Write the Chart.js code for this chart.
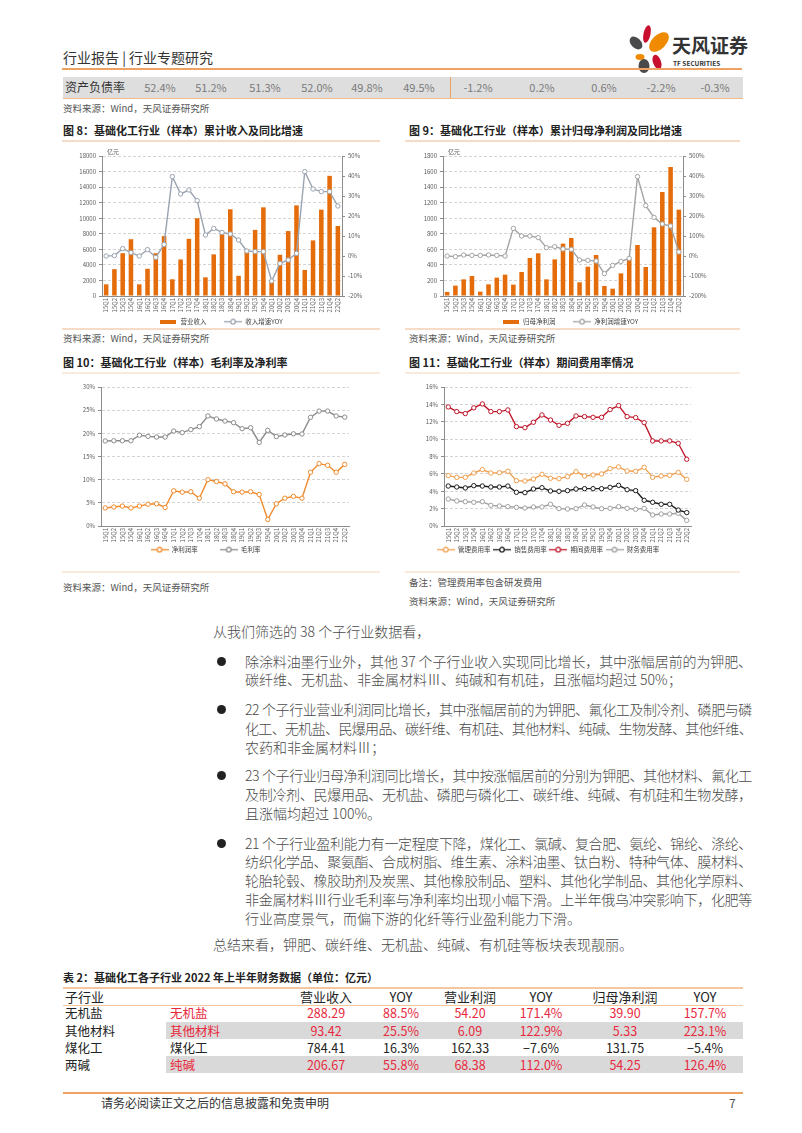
<!DOCTYPE html>
<html lang="zh-CN">
<head>
<meta charset="utf-8">
<title>基础化工行业专题研究</title>
<script src="https://cdn.jsdelivr.net/npm/chart.js@4.4.0/dist/chart.umd.min.js"></script>
<style>
  html, body { margin: 0; padding: 0; background: #fff; }
  body {
    width: 802px; height: 1133px; position: relative; overflow: hidden;
    font-family: "Noto Sans CJK SC", "Noto Sans", sans-serif; color: #333;
  }
  .t { position: absolute; white-space: nowrap; }
  .hline { position: absolute; height: 0; }
  .box { position: absolute; }
  .fig-title { font-size: 11px; font-weight: bold; color: #222; line-height: 14px; }
  .src { font-size: 9.5px; color: #555; line-height: 12px; }
  .ln { position: absolute; left: 245px; font-size: 14px; line-height: 19px; color: #4a4a4a; font-weight: 300; white-space: nowrap; }
  .ln span { display: inline-block; }
  .dot { position: absolute; left: 217px; width: 9px; height: 9px; border-radius: 50%; background: #222; }
  .num { position: absolute; font-size: 11px; color: #7a7a7a; transform: translateX(-50%); line-height: 14px; }
  .cell { position: absolute; font-size: 12.5px; line-height: 16px; transform: translateX(-50%); }
  canvas { position: absolute; }
</style>
</head>
<body>

<!-- header -->
<div class="t" style="left:63px; top:48px; font-size:14px; line-height:18px; color:#333;">行业报告 | 行业专题研究</div>
<svg class="box" style="left:622px; top:22px;" width="50" height="52" viewBox="0 0 50 52">
  <ellipse cx="25" cy="12" rx="3.5" ry="9" fill="#c8102e" transform="rotate(12 25 12)"/>
  <ellipse cx="37" cy="20" rx="7" ry="12" fill="#f08a00" transform="rotate(45 37 20)"/>
  <ellipse cx="14" cy="21" rx="5" ry="7.5" fill="#4a4a4a" transform="rotate(-45 14 21)"/>
  <ellipse cx="18" cy="35" rx="4.5" ry="3" fill="#f08a00"/>
  <ellipse cx="22" cy="44" rx="5.5" ry="7" fill="#4a4a4a"/>
  <ellipse cx="35" cy="40" rx="4" ry="7.5" fill="#c8102e" transform="rotate(-20 35 40)"/>
</svg>
<div class="t" style="left:672px; top:33px; font-size:19px; line-height:24px; font-weight:bold; color:#333;">天风证券</div>
<div class="t" style="left:673px; top:59px; font-size:6.5px; line-height:8px; font-weight:bold; color:#333;">TF SECURITIES</div>
<div class="hline" style="left:62px; top:68px; width:680px; border-top:2px solid #eda262;"></div>

<!-- debt ratio row -->
<div class="box" style="left:63px; top:77px; width:680px; height:21px; background:#dedede;"></div>
<div class="hline" style="left:63px; top:98px; width:680px; border-top:1px solid #f2b98a;"></div>
<div class="box" style="left:450px; top:77px; width:1px; height:21px; background:#eda262;"></div>
<div class="t" style="left:65px; top:79px; font-size:12px; line-height:16px; color:#333;">资产负债率</div>
<div id="debtRow"></div>
<div class="t src" style="left:63px; top:102px;">资料来源：Wind，天风证券研究所</div>

<!-- figure titles row 1 -->
<div class="t fig-title" style="left:63px; top:123px;">图 8：基础化工行业（样本）累计收入及同比增速</div>
<div class="t fig-title" style="left:409px; top:123px;">图 9：基础化工行业（样本）累计归母净利润及同比增速</div>
<div class="hline" style="left:62px; top:140px; width:318px; border-top:2px solid #f6dcc6;"></div>
<div class="hline" style="left:405px; top:140px; width:335px; border-top:2px solid #f6dcc6;"></div>
<canvas id="revenueChart" width="318" height="184" style="left:62px; top:143px;"></canvas>
<canvas id="profitChart" width="330" height="184" style="left:405px; top:143px;"></canvas>
<div class="hline" style="left:62px; top:328px; width:318px; border-top:2px solid #f6dcc6;"></div>
<div class="hline" style="left:405px; top:328px; width:335px; border-top:2px solid #f6dcc6;"></div>
<div class="t src" style="left:63px; top:332px;">资料来源：Wind，天风证券研究所</div>
<div class="t src" style="left:409px; top:332px;">资料来源：Wind，天风证券研究所</div>

<!-- figure titles row 2 -->
<div class="t fig-title" style="left:63px; top:355px;">图 10：基础化工行业（样本）毛利率及净利率</div>
<div class="t fig-title" style="left:409px; top:355px;">图 11：基础化工行业（样本）期间费用率情况</div>
<div class="hline" style="left:62px; top:372px; width:318px; border-top:2px solid #faeadc;"></div>
<div class="hline" style="left:405px; top:372px; width:335px; border-top:2px solid #faeadc;"></div>
<canvas id="marginChart" width="318" height="187" style="left:62px; top:375px;"></canvas>
<canvas id="expenseChart" width="330" height="187" style="left:405px; top:375px;"></canvas>
<div class="hline" style="left:62px; top:571px; width:318px; border-top:2px solid #faeadc;"></div>
<div class="hline" style="left:405px; top:571px; width:335px; border-top:2px solid #faeadc;"></div>
<div class="t src" style="left:63px; top:581px;">资料来源：Wind，天风证券研究所</div>
<div class="t src" style="left:409px; top:576px;">备注：管理费用率包含研发费用</div>
<div class="t src" style="left:409px; top:595px;">资料来源：Wind，天风证券研究所</div>

<!-- body text -->
<div id="body"></div>

<!-- table -->
<div class="t fig-title" style="left:63px; top:970px;">表 2：基础化工各子行业 2022 年上半年财务数据（单位：亿元）</div>
<div class="hline" style="left:63px; top:987px; width:680px; border-top:2px solid #f4c7a1;"></div>
<div class="hline" style="left:63px; top:1005px; width:680px; border-top:1px solid #f4c7a1;"></div>
<div id="table"></div>

<!-- footer -->
<div class="hline" style="left:63px; top:1092px; width:680px; border-top:2px solid #eda262;"></div>
<div class="t" style="left:101px; top:1095px; font-size:12px; line-height:16px; color:#333;">请务必阅读正文之后的信息披露和免责申明</div>
<div class="t" style="left:729px; top:1095px; font-size:12px; line-height:16px; color:#555;">7</div>

<script>
// ---- data ----
const quarters = [
  "15Q1", "15Q2", "15Q3", "15Q4", "16Q1", "16Q2", "16Q3", "16Q4",
  "17Q1", "17Q2", "17Q3", "17Q4", "18Q1", "18Q2", "18Q3", "18Q4",
  "19Q1", "19Q2", "19Q3", "19Q4", "20Q1", "20Q2", "20Q3", "20Q4",
  "21Q1", "21Q2", "21Q3", "21Q4", "22Q2",
];

// 图8 营业收入（亿元）与收入增速YOY（%）
const revenue = [
  1500, 3450, 5500, 7300, 1500, 3500, 5500, 7700,
  2150, 4700, 7350, 10000, 2400, 5350, 7950, 11150,
  2600, 5700, 8500, 11400, 1850, 5300, 8350, 11650,
  3350, 7150, 11100, 15450, 9000,
];
const revenueYoy = [
  0, 0.2, 3.7, 1.7, 0, 3.2, -0.7, 5.8,
  39.7, 31, 33, 27.7, 10.5, 13.8, 11.8, 11,
  8, 2.5, 2.2, 2.2, -12.5, -3.7, -2, 1.3,
  42.2, 33.5, 32.2, 32.2, 25,
];

// 图9 归母净利润（亿元）与净利润增速YOY（%）
const netProfit = [
  52, 133, 214, 257, 56, 150, 236, 274,
  146, 309, 489, 549, 214, 471, 673, 746,
  176, 377, 527, 129, 94, 291, 480, 656,
  373, 883, 1337, 1659, 1110,
];
const netProfitYoy = [
  0, -3, 5, 3, 3, 5, 3, 0,
  138, 100, 100, 92, 42, 47, 35, 33,
  -20, -22, -25, -88, -47, -27, -12, 397,
  252, 193, 160, 150, 20,
];

// 图10 净利润率 / 毛利率（%）
const netMargin = [
  3.9, 4.1, 4.3, 3.9, 4.3, 4.7, 4.8, 4.0,
  7.6, 7.3, 7.4, 6.0, 10.0, 9.6, 9.1, 7.4,
  7.3, 7.4, 6.8, 1.4, 4.8, 6.0, 6.4, 6.0,
  11.6, 13.45, 13.1, 11.6, 13.3,
];
const grossMargin = [
  18.35, 18.4, 18.4, 18.4, 19.6, 19.35, 19.2, 19.2,
  20.5, 20.15, 20.8, 21.45, 23.75, 23.1, 22.65, 22.3,
  21.0, 21.2, 18.05, 20.65, 19.3, 19.65, 19.9, 19.85,
  23.45, 24.8, 24.8, 23.75, 23.5,
];

// 图11 期间费用率（%）
const adminRate = [
  5.8, 5.6, 5.6, 6.1, 6.5, 6.1, 6.14, 6.3,
  5.22, 5.18, 5.41, 5.95, 5.49, 5.45, 5.68, 6.26,
  5.76, 5.87, 5.99, 6.6, 6.8, 6.33, 6.3, 6.76,
  5.6, 5.76, 5.83, 6.18, 5.37,
];
const sellingRate = [
  4.6, 4.49, 4.38, 4.64, 4.6, 4.49, 4.49, 4.6,
  3.88, 3.84, 4.26, 4.41, 4.03, 3.99, 4.07, 4.26,
  4.3, 4.3, 4.3, 4.45, 4.68, 4.18, 4.07, 2.96,
  2.73, 2.5, 2.5, 1.84, 1.54,
];
const periodRate = [
  13.7, 13.17, 12.94, 13.6, 14.05, 13.17, 13.17, 13.36,
  11.44, 11.32, 11.94, 12.78, 12.2, 11.59, 11.82, 12.67,
  12.59, 12.51, 12.51, 13.4, 13.86, 12.59, 12.48, 11.9,
  9.79, 9.79, 9.79, 9.52, 7.68,
];
const financeRate = [
  3.1, 2.88, 2.8, 2.73, 2.8, 2.38, 2.3, 2.23,
  2.15, 2.07, 2.19, 2.19, 2.5, 2.0, 1.96, 2.0,
  2.42, 2.19, 2.0, 2.03, 2.23, 2.03, 1.92, 2.03,
  1.27, 1.38, 1.38, 1.46, 0.65,
];

// 资产负债率行
const debtRatios = ["52.4%", "51.2%", "51.3%", "52.0%", "49.8%", "49.5%", "-1.2%", "0.2%", "0.6%", "-2.2%", "-0.3%"];

// 表2
const tableHeader = ["子行业", "", "营业收入", "YOY", "营业利润", "YOY", "归母净利润", "YOY"];
const tableRows = [
  ["无机盐", "无机盐", "288.29", "88.5%", "54.20", "171.4%", "39.90", "157.7%"],
  ["其他材料", "其他材料", "93.42", "25.5%", "6.09", "122.9%", "5.33", "223.1%"],
  ["煤化工", "煤化工", "784.41", "16.3%", "162.33", "−7.6%", "131.75", "−5.4%"],
  ["两碱", "纯碱", "206.67", "55.8%", "68.38", "112.0%", "54.25", "126.4%"],
];

// 正文
const introText = "从我们筛选的 38 个子行业数据看，";
const bullets = [
  ["除涂料油墨行业外，其他 37 个子行业收入实现同比增长，其中涨幅居前的为钾肥、",
   "碳纤维、无机盐、非金属材料Ⅲ、纯碱和有机硅，且涨幅均超过 50%；"],
  ["22 个子行业营业利润同比增长，其中涨幅居前的为钾肥、氟化工及制冷剂、磷肥与磷",
   "化工、无机盐、民爆用品、碳纤维、有机硅、其他材料、纯碱、生物发酵、其他纤维、",
   "农药和非金属材料Ⅲ；"],
  ["23 个子行业归母净利润同比增长，其中按涨幅居前的分别为钾肥、其他材料、氟化工",
   "及制冷剂、民爆用品、无机盐、磷肥与磷化工、碳纤维、纯碱、有机硅和生物发酵，",
   "且涨幅均超过 100%。"],
  ["21 个子行业盈利能力有一定程度下降，煤化工、氯碱、复合肥、氨纶、锦纶、涤纶、",
   "纺织化学品、聚氨酯、合成树脂、维生素、涂料油墨、钛白粉、特种气体、膜材料、",
   "轮胎轮毂、橡胶助剂及炭黑、其他橡胶制品、塑料、其他化学制品、其他化学原料、",
   "非金属材料Ⅲ行业毛利率与净利率均出现小幅下滑。上半年俄乌冲突影响下，化肥等",
   "行业高度景气，而偏下游的化纤等行业盈利能力下滑。"],
];
const summaryText = "总结来看，钾肥、碳纤维、无机盐、纯碱、有机硅等板块表现靓丽。";

// ---- page text ----
const debtX = [160, 211, 265, 317, 367, 419, 478, 542, 604, 661, 715];
document.getElementById("debtRow").innerHTML = debtRatios
  .map((v, i) => `<div class="num" style="left:${debtX[i]}px; top:80px;">${v}</div>`)
  .join("");

const bulletTops = [[662, 680], [710, 729, 748], [776, 795, 814], [844, 862, 881, 900, 919]];
let bodyHtml = `<div class="ln" style="left:213px; top:${632 - 10}px;"><span>${introText}</span></div>`;
bullets.forEach((lines, b) => {
  bodyHtml += `<div class="dot" style="top:${bulletTops[b][0] - 5}px;"></div>`;
  lines.forEach((line, i) => {
    const last = i === lines.length - 1;
    bodyHtml += `<div class="ln"${last ? "" : ' data-fit="1"'} style="top:${bulletTops[b][i] - 10}px;"><span>${line}</span></div>`;
  });
});
bodyHtml += `<div class="ln" style="left:213px; top:${945 - 10}px;"><span>${summaryText}</span></div>`;
document.getElementById("body").innerHTML = bodyHtml;

document.querySelectorAll('.ln[data-fit="1"] span').forEach((span) => {
  const natural = span.getBoundingClientRect().width;
  const n = span.textContent.length;
  span.style.letterSpacing = ((507 - natural) / n).toFixed(3) + "px";
});

const colX = [65, 170, 326, 401, 470, 541, 625, 705];
const rowTops = [989, 1005, 1023, 1040, 1057];
let tableHtml = "";
[1, 3].forEach((r) => {
  tableHtml += `<div class="box" style="left:166px; top:${rowTops[r + 1] - 1}px; width:577px; height:17px; background:#d9d9d9;"></div>`;
});
tableHeader.forEach((h, c) => {
  if (!h) return;
  const style = c < 2 ? `left:${colX[c]}px; transform:none;` : `left:${colX[c]}px;`;
  tableHtml += `<div class="cell" style="${style} top:${rowTops[0]}px; font-size:13px; color:#222;">${h}</div>`;
});
tableRows.forEach((row, r) => {
  const red = r !== 2;
  row.forEach((v, c) => {
    const color = c === 0 ? "#222" : red ? "#e8283c" : "#222";
    const style = c < 2 ? `left:${colX[c]}px; transform:none;` : `left:${colX[c]}px;`;
    tableHtml += `<div class="cell" style="${style} top:${rowTops[r + 1]}px; color:${color};">${v}</div>`;
  });
});
document.getElementById("table").innerHTML = tableHtml;

// ---- charts ----
const FONT = '"Noto Sans CJK SC", "Noto Sans", sans-serif';
const TICK = "#595959";
const AXIS = "#8c8c8c";
const GRID = "#d4d4d4";
const ORANGE_BAR = "#e46c0a";

function barIcon(color) {
  const c = document.createElement("canvas");
  c.width = 16;
  c.height = 4;
  const g = c.getContext("2d");
  g.fillStyle = color;
  g.fillRect(0, 0, 16, 4);
  return c;
}

function lineIcon(color) {
  const c = document.createElement("canvas");
  c.width = 18;
  c.height = 7;
  const g = c.getContext("2d");
  g.strokeStyle = color;
  g.lineWidth = 1.3;
  g.beginPath();
  g.moveTo(0, 3.5);
  g.lineTo(18, 3.5);
  g.stroke();
  g.beginPath();
  g.arc(9, 3.5, 2.3, 0, Math.PI * 2);
  g.fillStyle = "#fff";
  g.fill();
  g.stroke();
  return c;
}

function legendOptions(icons, padding, maxHeight, extra) {
  return {
    position: "bottom",
    maxHeight,
    labels: {
      usePointStyle: true,
      pointStyleWidth: 18,
      padding,
      color: "#404040",
      font: { size: 6.5, family: FONT },
      generateLabels(chart) {
        const items = Chart.defaults.plugins.legend.labels.generateLabels(chart);
        items.sort((a, b) => a.datasetIndex - b.datasetIndex);
        return items.map((it) => ({
          ...it,
          pointStyle: icons[it.datasetIndex],
          text: it.text + (extra[it.datasetIndex] || ""),
        }));
      },
    },
  };
}

function yAxis({ position, min, max, step, suffix, width, grid }) {
  return {
    position,
    min,
    max,
    ticks: {
      stepSize: step,
      color: TICK,
      padding: 3,
      font: { size: 6, family: FONT },
      callback: (v) => v + suffix,
    },
    grid: {
      drawOnChartArea: grid,
      color: GRID,
      tickColor: AXIS,
      tickLength: 3,
      tickBorderDash: [],
    },
    border: { color: AXIS, width: 1, dash: [3, 2] },
    afterFit(scale) {
      scale.width = width;
    },
  };
}

function xAxis(offset, height) {
  return {
    offset,
    ticks: {
      autoSkip: false,
      minRotation: 90,
      maxRotation: 90,
      padding: 2,
      color: TICK,
      font: { size: 6, family: FONT },
    },
    grid: { drawOnChartArea: false, drawTicks: false },
    border: { color: AXIS, width: 1 },
    afterFit(scale) {
      scale.height = height;
    },
  };
}

function unitLabel(text) {
  return {
    id: "unitLabel",
    afterDraw(chart) {
      const { ctx, chartArea } = chart;
      ctx.save();
      ctx.font = "6px " + FONT;
      ctx.fillStyle = TICK;
      ctx.textBaseline = "bottom";
      ctx.fillText(text, chartArea.left + 5, chartArea.top - 1);
      ctx.restore();
    },
  };
}

function lineDataset(label, data, color, yAxisID, order) {
  return {
    type: "line",
    label,
    data,
    yAxisID,
    order,
    borderColor: color,
    borderWidth: 1.4,
    pointRadius: 2.2,
    pointBorderWidth: 1,
    pointBorderColor: color,
    pointBackgroundColor: "#fff",
    tension: 0,
  };
}

function renderBarLine(id, cfg) {
  new Chart(document.getElementById(id), {
    type: "bar",
    data: {
      labels: quarters,
      datasets: [
        {
          label: cfg.barLabel,
          data: cfg.bars,
          yAxisID: "y",
          order: 1,
          backgroundColor: ORANGE_BAR,
          barPercentage: 0.55,
          categoryPercentage: 1,
        },
        lineDataset(cfg.lineLabel, cfg.line, cfg.lineColor, "y2", 0),
      ],
    },
    options: {
      responsive: false,
      devicePixelRatio: 1,
      animation: false,
      layout: { padding: { top: 13, left: 0, right: 0, bottom: 0 } },
      plugins: {
        legend: legendOptions([barIcon(ORANGE_BAR), lineIcon(cfg.lineColor)], 4.5, 13, ["\u3000\u3000", ""]),
        tooltip: { enabled: false },
      },
      scales: {
        x: xAxis(true, 18),
        y: yAxis({ position: "left", min: 0, max: cfg.max, step: cfg.step, suffix: "", width: cfg.leftWidth, grid: true }),
        y2: yAxis({ position: "right", min: cfg.min2, max: cfg.max2, step: cfg.step2, suffix: "%", width: cfg.rightWidth, grid: false }),
      },
    },
    plugins: [unitLabel("亿元")],
  });
}

function renderLines(id, cfg) {
  new Chart(document.getElementById(id), {
    type: "line",
    data: {
      labels: quarters,
      datasets: cfg.series.map((s, i) => lineDataset(s.label, s.data, s.color, "y", i)),
    },
    options: {
      responsive: false,
      devicePixelRatio: 1,
      animation: false,
      layout: { padding: { top: 12, left: 0, right: cfg.right, bottom: 0 } },
      plugins: {
        legend: legendOptions(cfg.series.map((s) => lineIcon(s.color)), 2.5, 18, cfg.extra),
        tooltip: { enabled: false },
      },
      scales: {
        x: xAxis(true, 18),
        y: yAxis({ position: "left", min: 0, max: cfg.max, step: cfg.step, suffix: "%", width: cfg.leftWidth, grid: true }),
      },
    },
  });
}

renderBarLine("revenueChart", {
  barLabel: "营业收入",
  bars: revenue,
  lineLabel: "收入增速YOY",
  line: revenueYoy,
  lineColor: "#9ba4b0",
  max: 18000, step: 2000,
  min2: -20, max2: 50, step2: 10,
  leftWidth: 40, rightWidth: 38,
});

renderBarLine("profitChart", {
  barLabel: "归母净利润",
  bars: netProfit,
  lineLabel: "净利润增速YOY",
  line: netProfitYoy,
  lineColor: "#a3a3a3",
  max: 1800, step: 200,
  min2: -200, max2: 500, step2: 100,
  leftWidth: 38, rightWidth: 52,
});

renderLines("marginChart", {
  series: [
    { label: "净利润率", data: netMargin, color: "#f08a2c" },
    { label: "毛利率", data: grossMargin, color: "#8c8c8c" },
  ],
  extra: ["\u3000\u3000\u3000", ""],
  max: 30, step: 5,
  leftWidth: 39, right: 31,
});

renderLines("expenseChart", {
  series: [
    { label: "管理费用率", data: adminRate, color: "#f0a050" },
    { label: "销售费用率", data: sellingRate, color: "#1e1e1e" },
    { label: "期间费用率", data: periodRate, color: "#c0172b" },
    { label: "财务费用率", data: financeRate, color: "#a0a0a0" },
  ],
  extra: ["", "", "", ""],
  max: 16, step: 2,
  leftWidth: 39, right: 44,
});
</script>
</body>
</html>
